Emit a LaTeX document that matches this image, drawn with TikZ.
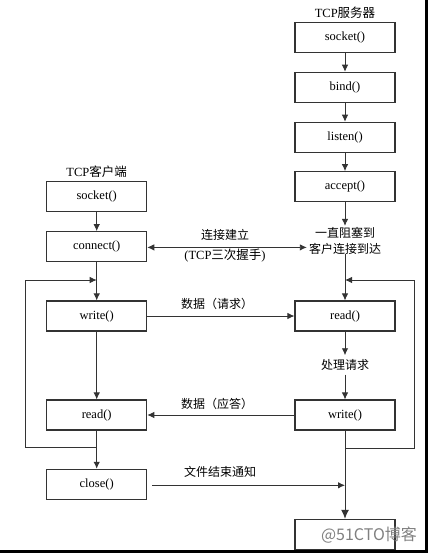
\documentclass[tikz,border=0pt]{standalone}
\usepackage{fontspec}
\setmainfont{Liberation Serif}
\newfontfamily\cjk{Noto Sans CJK SC}
\usetikzlibrary{arrows.meta}
\begin{document}
\begin{tikzpicture}[x=1pt,y=-1pt,
  font=\fontsize{12.5}{16.6}\selectfont,
  box/.style={draw=black!80, line width=1.1pt, minimum width=100pt, minimum height=30pt, inner sep=0pt},
  txt/.style={inner sep=2pt, align=center},
  arr/.style={draw=black!80, line width=0.9pt, -{Latex[length=7pt,width=6.5pt]}},
  zh/.style={font=\fontsize{12}{16.6}\selectfont\cjk}]
\useasboundingbox (0,0) rectangle (428,553);
% server column
\node[txt] (tsrv) at (345,12.7) {TCP{\cjk 服务器}};
\node[box] (ssock) at (345,37.7) {socket()};
\node[box] (sbind) at (345,87.3) {bind()};
\node[box] (slist) at (345,137.3) {listen()};
\node[box] (sacc) at (345,186.7) {accept()};
\node[txt,zh] (sblk) at (345,241) {一直阻塞到\\客户连接到达};
\node[box] (sread) at (345,316) {read()};
\node[txt,zh,inner sep=4pt] (sproc) at (345,365) {处理请求};
\node[box] (swrite) at (345,415) {write()};
\node[box] (sclose) at (345,534.3) {};
% client column
\node[txt] (tcli) at (96.7,172) {TCP{\cjk 客户端}};
\node[box] (csock) at (96.7,196.7) {socket()};
\node[box] (cconn) at (96.7,246.7) {connect()};
\node[box] (cwrite) at (96.7,316) {write()};
\node[box] (cread) at (96.7,415) {read()};
\node[box] (cclose) at (96.7,484.3) {close()};
% labels
\node[txt,zh] (l1) at (225,235) {连接建立};
\node[txt] (l2) at (225,256) {(TCP{\cjk 三次握手})};
\node[txt,zh] (l3) at (217,304) {数据（请求）};
\node[txt,zh] (l4) at (217,404) {数据（应答）};
\node[txt,zh] (l5) at (220,472) {文件结束通知};
% server arrows
\draw[arr] (ssock) -- (sbind);
\draw[arr] (sbind) -- (slist);
\draw[arr] (slist) -- (sacc);
\draw[arr] (sacc.south) -- ([yshift=-1pt]sblk.north);
\draw[arr] ([yshift=3pt]sblk.south) -- (sread.north);
\draw[arr] (sread.south) -- (sproc.north);
\draw[arr] (sproc.south) -- (swrite.north);
\draw[draw=black!80, line width=0.9pt, -{Latex[length=9pt,width=8pt]}] (swrite.south) -- (sclose.north);
% client arrows
\draw[arr] (csock) -- (cconn);
\draw[arr] (cconn.south) -- (cwrite.north);
\draw[arr] (cwrite.south) -- (cread.north);
\draw[arr] (cread.south) -- (cclose.north);
% horizontal arrows
\draw[draw=black!80, line width=0.9pt, {Latex[length=7pt,width=6.5pt]}-{Latex[length=7pt,width=6.5pt]}]
  ([yshift=-0.7pt]cconn.east) -- ([yshift=-0.7pt]cconn.east -| sblk.west);
\draw[arr] (cwrite.east) -- (sread.west);
\draw[arr] (swrite.west) -- (cread.east);
\draw[arr] ([xshift=5pt,yshift=-1pt]cclose.east) -- ([yshift=-1pt]cclose.east -| sclose.north);
% loops
\coordinate (ca) at (96.7,447.7);
\coordinate (cb) at (25.7,447.7);
\coordinate (cc) at (25.7,280);
\coordinate (cd) at (96.7,280);
\draw[arr] (ca) -- (cb) -- (cc) -- (cd);
\coordinate (sa) at (345,448);
\coordinate (sb) at (414.3,448);
\coordinate (sc) at (414.3,280);
\coordinate (sd) at (345,280);
\draw[arr] (sa) -- (sb) -- (sc) -- (sd);
% watermark
\node[inner sep=0pt, text=black!50, font=\fontsize{16}{18}\selectfont\cjk] (wm) at (369,535) {@51CTO博客};
% frame
\draw[line width=2.5pt] (426.7,0) -- (426.7,551.7) -- (0,551.7);
\end{tikzpicture}
\end{document}
